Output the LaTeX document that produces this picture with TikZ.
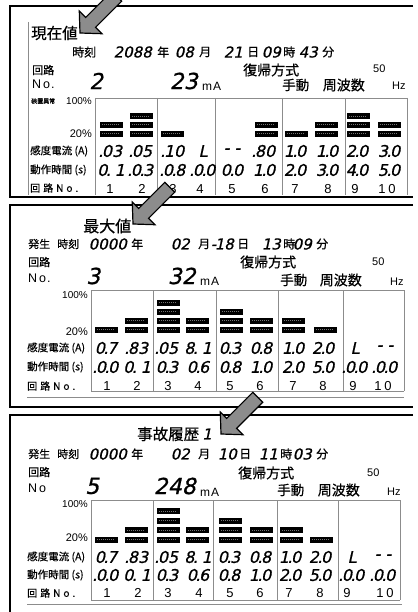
\documentclass[tikz,border=0pt]{standalone}
\usepackage{fontspec}
\setmainfont{Liberation Sans}
\newfontfamily\jp[FakeBold=0.5]{Noto Sans CJK JP}
\newfontfamily\seg[FakeSlant=0.22,FakeBold=0.8]{DejaVu Sans}
\newcommand\setfs[1]{\fontsize{#1}{#1}\selectfont}
\newcommand\dd{\kern-1.6pt.\kern-1.4pt}
\tikzset{
  jt/.style={inner sep=0pt, font=\jp\setfs{#1}},
  sg/.style={inner sep=0pt, font=\seg\setfs{#1}},
  lt/.style={inner sep=0pt, font=\setfs{#1}},
  frame/.style={draw=black, line width=1.8pt},
  gridline/.style={draw=black!45, line width=0.9pt},
  bar/.style={fill=black, draw=black, line width=0.3pt},
  barin/.style={draw=black!55, line width=0.5pt, dash pattern=on 1pt off 1pt},
  pointer/.style={fill=black!45, draw=black, line width=1.2pt, line join=miter},
}
\newcommand\pointerat[2]{%
  \begin{scope}[shift={(#1,#2)}, x={(0.707pt,0.707pt)}, y={(0.707pt,-0.707pt)}]
    \draw[pointer] (0,0) -- (15,16) -- (15,7) -- (52,7) -- (52,-7) -- (15,-7) -- (15,-16) -- cycle;
  \end{scope}}
% bars: x centre, base y, count, spacing
\newcommand\barstack[4]{%
  \foreach \k in {1,...,#3}{
    \path[bar] ({#1-11},{#2-(\k-1)*#4-2.5}) rectangle ({#1+11},{#2-(\k-1)*#4+2.5});
    \draw[barin] ({#1-9},{#2-(\k-1)*#4}) -- ({#1+9},{#2-(\k-1)*#4});
  }}
\begin{document}
\begin{tikzpicture}[x=1pt,y=-1pt]
\useasboundingbox (0,0) rectangle (417,612);
\fill[white] (0,0) rectangle (417,612);

% ================= PANEL 1 =================
\draw[frame] (413,6) -- (10,6) -- (10,197) -- (413,197);
\draw[gridline] (28,22) -- (28,195);
\node[jt=15.5,anchor=west] (p1title) at (31,33) {現在値};
\node[jt=12,anchor=west] (p1jk) at (72,52) {時刻};
\node[sg=15,anchor=east] (p1yr) at (152,52) {2088};
\node[jt=12,anchor=west] (p1nen) at (157,52) {年};
\node[sg=15,anchor=east] (p1mo) at (194,52) {08};
\node[jt=12,anchor=west] (p1tsuki) at (199,52) {月};
\node[sg=15,anchor=east] (p1dy) at (243,52) {21};
\node[jt=12,anchor=west] (p1hi) at (247,52) {日};
\node[sg=15,anchor=east] (p1hr) at (281,52) {09};
\node[jt=12,anchor=west] (p1ji) at (283,52) {時};
\node[sg=15,anchor=east] (p1mn) at (318,52) {43};
\node[jt=12,anchor=west] (p1fun) at (322,52) {分};
\node[jt=11,anchor=west] (p1kairo) at (32,70) {回路};
\node[lt=12.5,anchor=west] (p1no) at (32,84) {N\kern2pt o\kern1pt .};
\node[sg=22,anchor=west] (p1cno) at (89,81) {2};
\node[sg=22,anchor=east] (p1ma) at (198,81) {23};
\node[lt=12,anchor=west] (p1unit) at (202,86) {m\kern1pt A};
\node[jt=14,anchor=west] (p1fk) at (243,70) {復帰方式};
\node[lt=11,anchor=west] (p1hz50) at (373,69) {50};
\node[jt=13.5,anchor=west] (p1sd) at (282,85) {手動};
\node[jt=14,anchor=east] (p1sh) at (365,85) {周波数};
\node[lt=11,anchor=west] (p1hz) at (392,86) {Hz};
% chart
\draw[gridline] (95,98) -- (407,98);
\foreach \x in {95,157,215,282,345,407} \draw[gridline] (\x,98) -- (\x,195);
\node[jt=6,anchor=west] (p1err) at (31,101) {装置異常};
\node[lt=10,anchor=east] (p1h) at (92,101) {100\%};
\node[lt=11,anchor=east] (p1tw) at (92,134) {20\%};
\node[jt=10.5,anchor=west] (p1sens) at (30,151) {感度電流 (A)};
\node[jt=10.5,anchor=west] (p1time) at (30,170) {動作時間 (s)};
\node[jt=10,anchor=west] (p1cn) at (30,188) {回\kern3pt 路\kern3pt N\kern3pt o\kern3pt .};
\barstack{111}{133.5}{2}{8.8}
\barstack{141}{133.5}{3}{8.8}
\barstack{172}{133.5}{1}{8.8}
\barstack{266}{133.5}{2}{8.8}
\barstack{296}{133.5}{1}{8.8}
\barstack{326}{133.5}{2}{8.8}
\barstack{358}{133.5}{3}{8.8}
\barstack{389}{133.5}{2}{8.8}
\foreach \i/\x/\a/\b in {1/111/\dd03/0\dd\ 1, 2/141/\dd05/\dd0\dd3, 3/173/\dd10/\dd0\dd8, 4/203/L/\dd0\dd0, 5/232/- -/0\dd0, 6/264/\dd80/1\dd0, 7/295/1\dd0/2\dd0, 8/327/1\dd0/3\dd0, 9/357/2\dd0/4\dd0, 10/389/3\dd0/5\dd0}{
  \node[sg=16] (p1a\i) at (\x,151) {\a};
  \node[sg=16] (p1b\i) at (\x,170) {\b};
}
\foreach \i/\x/\t in {1/110/1, 2/142/2, 3/173/3, 4/200/4, 5/232/5, 6/265/6, 7/295/7, 8/328/8, 9/355/9, 10/387/1\kern3pt 0}
  \node[lt=13] (p1n\i) at (\x,189) {\t};

% ================= PANEL 2 =================
\draw[frame] (413,205) -- (10,205) -- (10,407) -- (413,407);
\node[jt=16,anchor=west] (p2title) at (83,226) {最大値};
\node[jt=11,anchor=west] (p2hs) at (28,244) {発生};
\node[jt=11,anchor=west] (p2jk) at (57,244) {時刻};
\node[sg=15,anchor=east] (p2yr) at (127,244) {0000};
\node[jt=12,anchor=west] (p2nen) at (131,244) {年};
\node[sg=15,anchor=east] (p2mo) at (190,244) {02};
\node[jt=12,anchor=west] (p2tsuki) at (198,244) {月};
\node[sg=15,anchor=east] (p2dy) at (234,244) {-\kern-1.5pt18};
\node[jt=12,anchor=west] (p2hi) at (237,244) {日};
\node[sg=15,anchor=east] (p2hr) at (281,244) {13};
\node[jt=12,anchor=west] (p2ji) at (283,244) {時};
\node[sg=15,anchor=east] (p2mn) at (312,244) {09};
\node[jt=12,anchor=west] (p2fun) at (316,244) {分};
\node[jt=11,anchor=west] (p2kairo) at (28,262) {回路};
\node[lt=12.5,anchor=west] (p2no) at (28,278) {N\kern2pt o\kern1pt .};
\node[sg=22,anchor=west] (p2cno) at (86,276) {3};
\node[sg=22,anchor=east] (p2ma) at (196,276) {32};
\node[lt=12,anchor=west] (p2unit) at (200,281) {m\kern1pt A};
\node[jt=14,anchor=west] (p2fk) at (240,262) {復帰方式};
\node[lt=11,anchor=west] (p2hz50) at (372,262) {50};
\node[jt=13.5,anchor=west] (p2sd) at (280,280) {手動};
\node[jt=14,anchor=east] (p2sh) at (362,280) {周波数};
\node[lt=11,anchor=west] (p2hz) at (390,282) {Hz};
\draw[gridline] (91,290) -- (404,290);
\draw[gridline] (91,391) -- (404,391);
\foreach \x in {91,153,216,278,343,404} \draw[gridline] (\x,290) -- (\x,391);
\draw[gridline] (27,397) -- (404,397);
\node[lt=10,anchor=east] (p2h) at (88,295) {100\%};
\node[lt=11,anchor=east] (p2tw) at (88,332) {20\%};
\node[jt=10.5,anchor=west] (p2sens) at (27,348) {感度電流 (A)};
\node[jt=10.5,anchor=west] (p2time) at (27,367) {動作時間 (s)};
\node[jt=10,anchor=west] (p2cn) at (27,386) {回\kern3pt 路\kern3pt N\kern3pt o\kern3pt .};
\barstack{106}{329.5}{1}{9}
\barstack{136}{329.5}{2}{9}
\barstack{168}{329.5}{4}{9}
\barstack{197}{329.5}{2}{9}
\barstack{231}{329.5}{3}{9}
\barstack{261}{329.5}{2}{9}
\barstack{293}{329.5}{2}{9}
\barstack{325}{329.5}{1}{9}
\foreach \i/\x/\a/\b in {1/106/0\dd7/\dd0\dd0, 2/137/\dd83/0\dd\ 1, 3/167/\dd05/0\dd3, 4/198/8\dd\ 1/0\dd6, 5/230/0\dd3/0\dd8, 6/261/0\dd8/1\dd0, 7/293/1\dd0/2\dd0, 8/323/2\dd0/5\dd0, 9/355/L/\dd0\dd0, 10/385/- -/\dd0\dd0}{
  \node[sg=16] (p2a\i) at (\x,348) {\a};
  \node[sg=16] (p2b\i) at (\x,367) {\b};
}
\foreach \i/\x/\t in {1/107/1, 2/137/2, 3/168/3, 4/198/4, 5/230/5, 6/260/6, 7/293/7, 8/323/8, 9/353/9, 10/383/1\kern3pt 0}
  \node[lt=13] (p2n\i) at (\x,386) {\t};

% ================= PANEL 3 =================
\draw[frame] (413,415) -- (10,415) -- (10,614);
\node[jt=15.5,anchor=west] (p3title) at (137,434) {事故履歴};
\node[sg=15,anchor=west] (p3idx) at (202,434) {1};
\node[jt=11,anchor=west] (p3hs) at (28,454) {発生};
\node[jt=11,anchor=west] (p3jk) at (57,454) {時刻};
\node[sg=15,anchor=east] (p3yr) at (127,454) {0000};
\node[jt=12,anchor=west] (p3nen) at (131,454) {年};
\node[sg=15,anchor=east] (p3mo) at (190,454) {02};
\node[jt=12,anchor=west] (p3tsuki) at (198,454) {月};
\node[sg=15,anchor=east] (p3dy) at (237,454) {10};
\node[jt=12,anchor=west] (p3hi) at (239,454) {日};
\node[sg=15,anchor=east] (p3hr) at (278,454) {11};
\node[jt=12,anchor=west] (p3ji) at (280,454) {時};
\node[sg=15,anchor=east] (p3mn) at (312,454) {03};
\node[jt=12,anchor=west] (p3fun) at (316,454) {分};
\node[jt=11,anchor=west] (p3kairo) at (28,472) {回路};
\node[lt=12.5,anchor=west] (p3no) at (28,488) {N\kern2pt o};
\node[sg=22,anchor=west] (p3cno) at (85,486) {5};
\node[sg=22,anchor=east] (p3ma) at (196,486) {248};
\node[lt=12,anchor=west] (p3unit) at (200,492) {m\kern1pt A};
\node[jt=14,anchor=west] (p3fk) at (238,473) {復帰方式};
\node[lt=11,anchor=west] (p3hz50) at (367,473) {50};
\node[jt=13.5,anchor=west] (p3sd) at (277,490) {手動};
\node[jt=14,anchor=east] (p3sh) at (360,490) {周波数};
\node[lt=11,anchor=west] (p3hz) at (387,492) {Hz};
\draw[gridline] (91,500) -- (400,500);
\draw[gridline] (91,600) -- (400,600);
\foreach \x in {91,153,213,277,338,400} \draw[gridline] (\x,500) -- (\x,600);
\draw[gridline] (27,604) -- (402,604);
\node[lt=10,anchor=east] (p3h) at (88,504) {100\%};
\node[lt=11,anchor=east] (p3tw) at (88,538) {20\%};
\node[jt=10.5,anchor=west] (p3sens) at (27,557) {感度電流 (A)};
\node[jt=10.5,anchor=west] (p3time) at (27,575) {動作時間 (s)};
\node[jt=10,anchor=west] (p3cn) at (27,593) {回\kern3pt 路\kern3pt N\kern3pt o\kern3pt .};
\barstack{106}{539.5}{1}{9.5}
\barstack{136}{539.5}{2}{9.5}
\barstack{168}{539.5}{4}{9.5}
\barstack{197}{539.5}{2}{9.5}
\barstack{230}{539.5}{3}{9.5}
\barstack{261}{539.5}{2}{9.5}
\barstack{291}{539.5}{2}{9.5}
\barstack{321}{539.5}{1}{9.5}
\foreach \i/\x/\a/\b in {1/106/0\dd7/\dd0\dd0, 2/137/\dd83/0\dd\ 1, 3/167/\dd05/0\dd3, 4/198/8\dd\ 1/0\dd6, 5/229/0\dd3/0\dd8, 6/260/0\dd8/1\dd0, 7/290/1\dd0/2\dd0, 8/320/2\dd0/5\dd0, 9/352/L/\dd0\dd0, 10/383/- -/\dd0\dd0}{
  \node[sg=16] (p3a\i) at (\x,557) {\a};
  \node[sg=16] (p3b\i) at (\x,575) {\b};
}
\foreach \i/\x/\t in {1/107/1, 2/138/2, 3/168/3, 4/199/4, 5/230/5, 6/260/6, 7/289/7, 8/320/8, 9/347/9, 10/385/1\kern3pt 0}
  \node[lt=13] (p3n\i) at (\x,593) {\t};

% pointers
\pointerat{80}{33}
\pointerat{133}{224}
\pointerat{221}{434}
\end{tikzpicture}
\end{document}
